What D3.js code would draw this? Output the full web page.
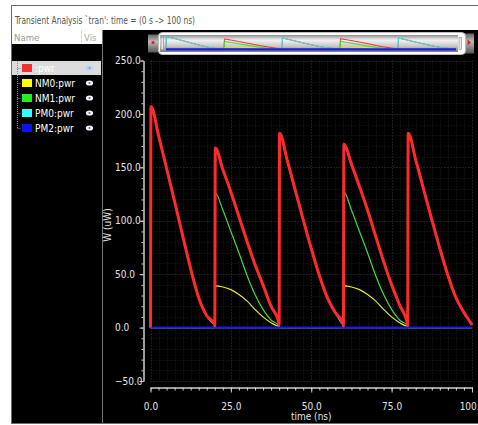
<!DOCTYPE html>
<html><head><meta charset="utf-8">
<script src="https://cdn.jsdelivr.net/npm/d3@7"></script>
<style>
html,body{margin:0;padding:0;background:#fff;}
svg{display:block;}
text{font-family:"Liberation Sans Narrow","Arial Narrow","DejaVu Sans Condensed",sans-serif;}
</style></head>
<body>
<svg id="chart" width="478" height="425"></svg>
<script>
// ---------- data ----------
const titleText = "Transient Analysis `tran': time = (0 s -> 100 ns)";
const seriesNames = [":pwr", "NM0:pwr", "NM1:pwr", "PM0:pwr", "PM2:pwr"];
const seriesColors = ["#ff2b2b", "#e6e63a", "#3edc3e", "#3ee6e6", "#1a1ae6"];
const legendColors = ["#ee3030", "#ffff00", "#22ee22", "#33ffff", "#1010f0"];
const xMajorTicks = [0, 25, 50, 75, 100];
const yMajorTicks = [-50, 0, 50, 100, 150, 200, 250];
// time samples (ns)
const timeNs = [
  0, 0.15, 2.5, 5, 7.5, 10, 12.5, 15, 17.5, 19.9,
  20, 20.15, 22.5, 25, 27.5, 30, 32.5, 35, 37.5, 39.9,
  40, 40.15, 42.5, 45, 47.5, 50, 52.5, 55, 57.5, 59.9,
  60, 60.15, 62.5, 65, 67.5, 70, 72.5, 75, 77.5, 79.9,
  80, 80.15, 82.5, 85, 87.5, 90, 92.5, 95, 97.5, 99.9, 100
];
// power (uW)
const pwrTotal = [
  0, 207, 180, 149, 118, 86, 55, 28, 11, 3.5,
  1.5, 168, 148, 127, 104, 81, 59, 40, 20, 5,
  2, 182, 157, 129, 101, 74, 49, 28, 14, 3.5,
  1.5, 171.5, 153, 132, 110, 86, 62, 40, 21, 4,
  2, 182, 157, 129, 101, 74, 49, 28, 14, 3, 2.5
];
const pwrNM0 = [
  0, 0, 0, 0, 0, 0, 0, 0, 0, 0,
  0, 39, 38, 35.5, 31, 25, 17, 10, 4.5, 1.5,
  1.5, 0, 0, 0, 0, 0, 0, 0, 0, 0,
  0, 39, 38, 35.5, 31, 25, 17, 10, 4.5, 1.5,
  1.5, 0, 0, 0, 0, 0, 0, 0, 0, 0, 0
];
const pwrNM1 = [
  0, 0, 0, 0, 0, 0, 0, 0, 0, 0,
  0, 126, 110, 90, 70, 49, 31, 17, 7, 2,
  1.5, 0, 0, 0, 0, 0, 0, 0, 0, 0,
  0, 127, 110, 90, 70, 49, 31, 17, 7, 2,
  1.5, 0, 0, 0, 0, 0, 0, 0, 0, 0, 0
];
const pwrPM0 = [
  0, 207, 180, 149, 118, 86, 55, 28, 11, 3.5,
  3.5, 0, 0, 0, 0, 0, 0, 0, 0, 0,
  0, 182, 157, 129, 101, 74, 49, 28, 14, 3.5,
  3.5, 0, 0, 0, 0, 0, 0, 0, 0, 0,
  0, 182, 157, 129, 101, 74, 49, 28, 14, 3, 2.5
];
const pwrPM2 = timeNs.map(() => 0);
const seriesValues = [pwrTotal, pwrNM0, pwrNM1, pwrPM0, pwrPM2];

// ---------- layout ----------
const svg = d3.select("#chart");
const W = 478, H = 425;

// window frame
svg.append("rect").attr("x", 11.5).attr("y", 5.5).attr("width", 480).attr("height", 418)
  .attr("fill", "#fff").attr("stroke", "#6a6a6a");
svg.append("text").attr("x", 15).attr("y", 24).attr("font-size", 10).attr("fill", "#555")
  .attr("textLength", 180).attr("lengthAdjust", "spacingAndGlyphs").text(titleText);

// list header
svg.append("text").attr("x", 14).attr("y", 41).attr("font-size", 9.5).attr("fill", "#999").text("Name");
svg.append("text").attr("x", 84).attr("y", 41).attr("font-size", 9.5).attr("fill", "#aaa").text("Vis");
svg.append("line").attr("x1", 81.5).attr("x2", 81.5).attr("y1", 30).attr("y2", 44).attr("stroke", "#ddd");

// left panel
svg.append("rect").attr("x", 12).attr("y", 44).attr("width", 90).attr("height", 379).attr("fill", "#000");
svg.append("line").attr("x1", 102.5).attr("x2", 102.5).attr("y1", 30).attr("y2", 423).attr("stroke", "#777");
// plot panel
svg.append("rect").attr("x", 103).attr("y", 30).attr("width", W - 103).attr("height", 393).attr("fill", "#000");

// legend tree
const rowY = (i) => 68 + i * 15;
svg.append("rect").attr("x", 12).attr("y", 61).attr("width", 89).attr("height", 14).attr("fill", "#dcdcdc");
svg.append("line").attr("x1", 17.5).attr("x2", 17.5).attr("y1", 61).attr("y2", rowY(4))
  .attr("stroke", "#888").attr("stroke-dasharray", "1,1");
const rows = svg.append("g").selectAll("g").data(seriesNames).join("g")
  .attr("transform", (d, i) => `translate(0,${rowY(i)})`);
rows.append("line").attr("x1", 17.5).attr("x2", 21).attr("y1", 0.5).attr("y2", 0.5)
  .attr("stroke", "#888").attr("stroke-dasharray", "1,1");
rows.append("rect").attr("x", 22).attr("y", -4).attr("width", 10).attr("height", 8)
  .attr("fill", (d, i) => legendColors[i]);
rows.append("text").attr("x", 35).attr("y", 3.6).attr("font-size", 10)
  .attr("fill", "#fff").text(d => d);
rows.append("ellipse").attr("cx", 89.5).attr("cy", 0).attr("rx", 3.6).attr("ry", 2.6)
  .attr("fill", (d, i) => i === 0 ? "#b9d3f5" : "#f4f6ff");
rows.append("circle").attr("cx", 89.5).attr("cy", 0).attr("r", 1.1)
  .attr("fill", (d, i) => i === 0 ? "#7a9fd8" : "#5a6f9a");

// ---------- scales ----------
const x = d3.scaleLinear().domain([0, 100]).range([150.5, 472]);
const y = d3.scaleLinear().domain([-50, 250]).range([381, 60.5]);
const xMinor = d3.range(0, 100.01, 2.5);
const yMinor = d3.range(-50, 250.01, 10);

// grid
const grid = svg.append("g");
grid.selectAll("line.gv").data(xMinor).join("line")
  .attr("x1", d => Math.round(x(d)) + 0.5).attr("x2", d => Math.round(x(d)) + 0.5)
  .attr("y1", y(250)).attr("y2", y(-50))
  .attr("stroke", d => d % 25 === 0 ? "#3a3a3a" : "#1e1e1e").attr("stroke-dasharray", "1,2");
grid.selectAll("line.gh").data(yMinor).join("line")
  .attr("x1", x(0)).attr("x2", x(100))
  .attr("y1", d => Math.round(y(d)) + 0.5).attr("y2", d => Math.round(y(d)) + 0.5)
  .attr("stroke", d => d % 50 === 0 ? "#3a3a3a" : "#1e1e1e").attr("stroke-dasharray", "1,2");

// axes
const fmt = d3.format(".1f");
const axisColor = "#cfcfcf", labelColor = "#e4e4e4";
function styleAxis(g) {
  g.selectAll("path.domain").attr("stroke", axisColor);
  g.selectAll(".tick line").attr("stroke", axisColor);
  g.selectAll(".tick text").attr("fill", labelColor).attr("font-size", 10)
    .attr("font-family", '"Liberation Sans Narrow","Arial Narrow","DejaVu Sans Condensed",sans-serif');
}
const xAxisG = svg.append("g").attr("transform", "translate(0,387.5)")
  .call(d3.axisBottom(x).tickValues(xMajorTicks).tickSize(5).tickSizeOuter(0).tickPadding(10).tickFormat(fmt));
styleAxis(xAxisG);
const xMinorG = svg.append("g").attr("transform", "translate(0,387.5)")
  .call(d3.axisBottom(x).tickValues(xMinor).tickSize(3).tickSizeOuter(0).tickFormat(""));
styleAxis(xMinorG);

const yAxisG = svg.append("g").attr("transform", "translate(143.5,0)")
  .call(d3.axisLeft(y).tickValues(yMajorTicks).tickSize(4).tickSizeOuter(0).tickFormat(fmt));
styleAxis(yAxisG);
yAxisG.selectAll(".tick text").attr("text-anchor", "start").attr("x", -28.5);
const yMinorG = svg.append("g").attr("transform", "translate(143.5,0)")
  .call(d3.axisLeft(y).tickValues(yMinor).tickSize(2).tickSizeOuter(0).tickFormat(""));
styleAxis(yMinorG);

svg.append("text").attr("transform", "translate(110.5,225) rotate(-90)")
  .attr("text-anchor", "middle").attr("font-size", 10).attr("fill", labelColor).text("W (uW)");
svg.append("text").attr("x", x(50)).attr("y", 420).attr("text-anchor", "middle")
  .attr("font-size", 10).attr("fill", labelColor).text("time (ns)");

// traces
const pts = (vals) => timeNs.map((t, i) => [t, vals[i]]);
const line = d3.line().x(d => x(d[0])).y(d => y(d[1])).curve(d3.curveMonotoneX);
const drawOrder = [1, 2, 3, 4, 0];
const widths = [3, 1.2, 1.2, 1.2, 2];
drawOrder.forEach(i => {
  svg.append("path").attr("d", line(pts(seriesValues[i])))
    .attr("fill", "none").attr("stroke", seriesColors[i]).attr("stroke-width", widths[i])
    .attr("stroke-linejoin", "round");
});

// ---------- overview strip ----------
const defs = svg.append("defs");
const gr = defs.append("linearGradient").attr("id", "cyl").attr("x1", 0).attr("y1", 0).attr("x2", 0).attr("y2", 1);
[[0, "#8e8e8e"], [0.3, "#f2f2f2"], [0.65, "#c9c9c9"], [1, "#7c7c7c"]].forEach(s =>
  gr.append("stop").attr("offset", s[0]).attr("stop-color", s[1]));
const gr2 = defs.append("linearGradient").attr("id", "knob").attr("x1", 0).attr("y1", 0).attr("x2", 0).attr("y2", 1);
[[0, "#666"], [0.4, "#bbb"], [1, "#555"]].forEach(s =>
  gr2.append("stop").attr("offset", s[0]).attr("stop-color", s[1]));

svg.append("rect").attr("x", 148).attr("y", 34.5).attr("width", 11).attr("height", 18).attr("fill", "url(#knob)");
svg.append("circle").attr("cx", 153).attr("cy", 42.5).attr("r", 1.6).attr("fill", "#e02020");
svg.append("rect").attr("x", 465).attr("y", 33.5).attr("width", 9).attr("height", 20).attr("fill", "url(#knob)");
svg.append("path").attr("d", "M467.5,39.5 L471,42.5 L467.5,45.5 Z").attr("fill", "#e02020");
svg.append("rect").attr("x", 158.5).attr("y", 32.5).attr("width", 307).attr("height", 22).attr("rx", 4)
  .attr("fill", "#fff").attr("stroke", "#bbb");
svg.append("rect").attr("x", 160).attr("y", 35).attr("width", 298).attr("height", 17).attr("fill", "url(#cyl)");
svg.append("rect").attr("x", 161).attr("y", 37.5).attr("width", 2.5).attr("height", 12).attr("fill", "#e6e6e6").attr("stroke", "#888").attr("stroke-width", 0.6);
svg.append("rect").attr("x", 459).attr("y", 37.5).attr("width", 2.5).attr("height", 12).attr("fill", "#e6e6e6").attr("stroke", "#888").attr("stroke-width", 0.6);

const ox = d3.scaleLinear().domain([0, 100]).range([166, 456]);
const oy = d3.scaleLinear().domain([0, 210]).range([49.3, 36.3]);
const oline = d3.line().x(d => ox(d[0])).y(d => oy(d[1]));
[0, 1, 2, 3, 4].forEach(i => {
  svg.append("path").attr("d", oline(pts(seriesValues[i])))
    .attr("fill", "none").attr("stroke", seriesColors[i]).attr("stroke-width", i === 4 ? 2.2 : 1);
});
</script>
</body></html>
